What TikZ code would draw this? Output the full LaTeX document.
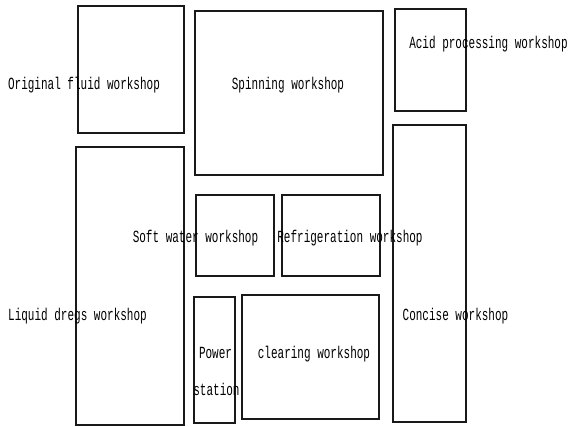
\documentclass[tikz,border=0pt]{standalone}
\usepackage{fontspec}
\setmonofont{Liberation Mono}
\newcommand{\tallmono}[1]{\scalebox{0.647}[1]{\ttfamily\fontsize{17}{18}\selectfont #1}}
\begin{document}
\begin{tikzpicture}[x=1pt,y=-1pt,
  box/.style={draw=black!90, line width=1.1pt},
  lbl/.style={inner sep=0pt, text=black, anchor=base}]
\useasboundingbox[fill=white] (0,0) rectangle (568,427);
% boxes
\draw[box] (78,6) rectangle (184,133) coordinate (orig);
\draw[box] (195,11) rectangle (383,175) coordinate (spin);
\draw[box] (395,9) rectangle (466,111) coordinate (acid);
\draw[box] (76,147) rectangle (184,425) coordinate (dregs);
\draw[box] (196,195) rectangle (274,276) coordinate (soft);
\draw[box] (282,195) rectangle (380,276) coordinate (refr);
\draw[box] (393,125) rectangle (466,422) coordinate (conc);
\draw[box] (194,297) rectangle (235,423) coordinate (power);
\draw[box] (242,295) rectangle (379,419) coordinate (clear);
% labels
\node[lbl] (torig) at (84,90) {\tallmono{Original fluid workshop}};
\node[lbl] (tspin) at (288,90) {\tallmono{Spinning workshop}};
\node[lbl] (tacid) at (488.5,49) {\tallmono{Acid processing workshop}};
\node[lbl] (tsoft) at (195.5,243) {\tallmono{Soft water workshop}};
\node[lbl] (trefr) at (350,243) {\tallmono{Refrigeration workshop}};
\node[lbl] (tdregs) at (77.5,321) {\tallmono{Liquid dregs workshop}};
\node[lbl] (tconc) at (455.5,321) {\tallmono{Concise workshop}};
\node[lbl] (tpow1) at (215.5,359) {\tallmono{Power}};
\node[lbl] (tpow2) at (216.5,396) {\tallmono{station}};
\node[lbl] (tclear) at (314,359) {\tallmono{clearing workshop}};
\end{tikzpicture}
\end{document}
